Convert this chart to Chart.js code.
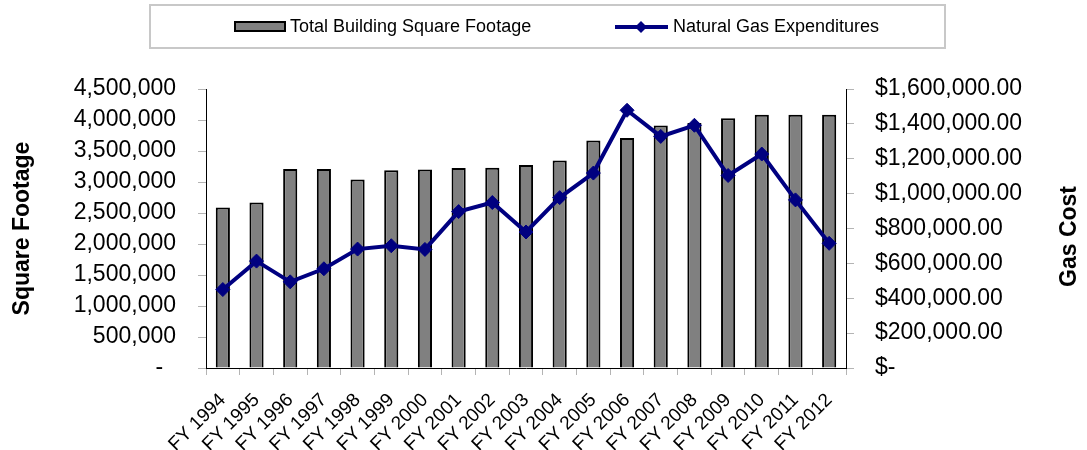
<!DOCTYPE html>
<html><head><meta charset="utf-8">
<script src="https://cdn.jsdelivr.net/npm/chart.js@4.4.1/dist/chart.umd.min.js"></script>
<style>html,body{margin:0;padding:0;background:#fff;overflow:hidden}</style>
</head><body><canvas id="c" width="1087" height="450"></canvas>
<script>
const categories = ['FY 1994','FY 1995','FY 1996','FY 1997','FY 1998','FY 1999','FY 2000','FY 2001','FY 2002','FY 2003','FY 2004','FY 2005','FY 2006','FY 2007','FY 2008','FY 2009','FY 2010','FY 2011','FY 2012'];
const squareFootage = [2590000, 2670000, 3210000, 3210000, 3040000, 3190000, 3200000, 3225000, 3230000, 3275000, 3345000, 3670000, 3710000, 3910000, 3950000, 4030000, 4085000, 4085000, 4085000];
const gasCost = [450000, 613000, 494000, 569000, 682000, 701000, 680000, 897000, 949000, 780000, 977000, 1118000, 1478000, 1328000, 1392000, 1104000, 1227000, 964000, 715000];
const barLabel = 'Total Building Square Footage';
const lineLabel = 'Natural Gas Expenditures';
const leftTitle = 'Square Footage';
const rightTitle = 'Gas Cost';

const FONT = '"Liberation Sans", Arial, sans-serif';

const legendPlugin = {
  id: 'customLegend',
  afterDraw(chart) {
    const ctx = chart.ctx;
    const bar = chart.data.datasets[0], line = chart.data.datasets[1];
    ctx.save();
    ctx.strokeStyle = '#c8c8c8'; ctx.lineWidth = 2;
    ctx.strokeRect(150, 5, 795, 43);
    ctx.fillStyle = bar.backgroundColor; ctx.fillRect(235, 22, 50, 9);
    ctx.strokeStyle = '#000'; ctx.lineWidth = 2; ctx.strokeRect(235, 22, 50, 9);
    ctx.font = '18px ' + FONT; ctx.fillStyle = '#000'; ctx.textBaseline = 'middle'; ctx.textAlign = 'left';
    ctx.fillText(bar.label, 290, 27);
    ctx.strokeStyle = line.borderColor; ctx.lineWidth = 4;
    ctx.beginPath(); ctx.moveTo(615, 27); ctx.lineTo(668, 27); ctx.stroke();
    ctx.fillStyle = line.borderColor;
    ctx.beginPath(); ctx.moveTo(641 - 6, 27); ctx.lineTo(641, 21); ctx.lineTo(641 + 6, 27); ctx.lineTo(641, 33); ctx.closePath(); ctx.fill();
    ctx.fillStyle = '#000';
    ctx.fillText(line.label, 673, 27);
    const ca = chart.chartArea;
    ctx.translate(1070, (ca.top + ca.bottom) / 2 + 8);
    ctx.rotate(-Math.PI / 2);
    ctx.font = 'bold 23px ' + FONT; ctx.textAlign = 'center';
    ctx.fillText(rightTitle, 0, 0);
    ctx.restore();
  }
};

const tickGray = '#b4b4b4';
new Chart(document.getElementById('c'), {
  data: {
    labels: categories,
    datasets: [
      { type: 'bar', label: barLabel, data: squareFootage, yAxisID: 'y',
        backgroundColor: '#808080', borderColor: '#000', borderWidth: 2,
        barPercentage: 0.42, categoryPercentage: 1, order: 2 },
      { type: 'line', label: lineLabel, data: gasCost, yAxisID: 'y1',
        borderColor: '#000080', borderWidth: 4, tension: 0,
        pointStyle: 'rectRot', pointRadius: 7, pointBackgroundColor: '#000080',
        pointBorderColor: '#000080', pointBorderWidth: 1, order: 1 }
    ]
  },
  options: {
    responsive: false, animation: false,
    layout: { padding: { top: 89, left: 0, right: 0, bottom: 0 } },
    plugins: { legend: { display: false }, tooltip: { enabled: false } },
    scales: {
      x: {
        grid: { offset: true, drawOnChartArea: false, tickLength: 7, color: tickGray },
        border: { color: '#000', width: 1 },
        ticks: { font: { family: FONT, size: 19 }, color: '#000', minRotation: 45, maxRotation: 45, autoSkip: false, padding: 14 },
        afterFit: s => { s.height = 82; }
      },
      y: {
        position: 'left', min: 0, max: 4500000,
        grid: { drawOnChartArea: false, tickLength: 8, color: tickGray },
        border: { color: '#000', width: 1 },
        ticks: { stepSize: 500000, font: { family: FONT, size: 23 }, color: '#000', padding: 22,
          callback: v => v === 0 ? '-  ' : v.toLocaleString('en-US') },
        title: { display: true, text: leftTitle, color: '#000', font: { family: FONT, size: 23, weight: 'bold' }, padding: { top: 9, bottom: 0 } },
        afterFit: s => { s.width = 206; }
      },
      y1: {
        position: 'right', min: 0, max: 1600000,
        grid: { drawOnChartArea: false, tickLength: 8, color: tickGray },
        border: { color: '#000', width: 1 },
        ticks: { stepSize: 200000, font: { family: FONT, size: 23 }, color: '#000', padding: 21,
          callback: v => v === 0 ? '$-' : '$' + v.toLocaleString('en-US', { minimumFractionDigits: 2, maximumFractionDigits: 2 }) },
        afterFit: s => { s.width = 241; }
      }
    }
  },
  plugins: [legendPlugin]
});
</script>
</body></html>
